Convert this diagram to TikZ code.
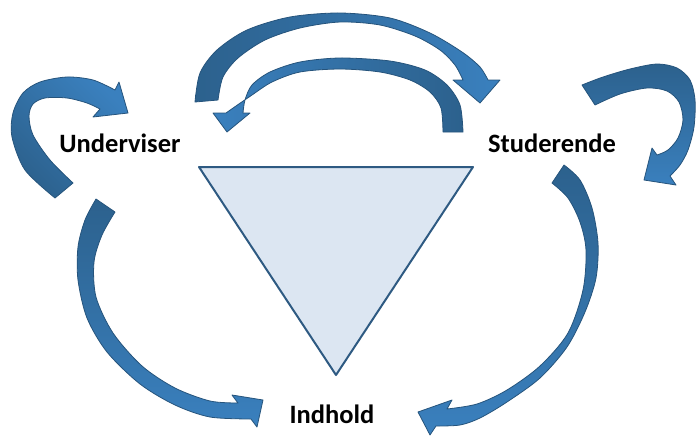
\documentclass[tikz,border=0pt]{standalone}
\usepackage{fontspec}
\setmainfont{Carlito}
\definecolor{arrdark}{RGB}{44,97,141}
\definecolor{arrlight}{RGB}{58,128,190}
\definecolor{arrline}{RGB}{38,84,124}
\definecolor{trifill}{RGB}{220,230,242}
\definecolor{triline}{RGB}{46,90,130}
\begin{document}
\begin{tikzpicture}[x=1pt,y=-1pt]
	\tikzstyle{role}=[font=\fontsize{26.5}{30}\selectfont\bfseries,anchor=base,inner sep=0pt]
	\tikzstyle{band}=[draw=arrline,line width=0.8pt,line join=round]
	\tikzstyle{tri}=[draw=triline,fill=trifill,line width=2pt,line join=round]

	\useasboundingbox (0,0) rectangle (696,437);

	\coordinate (tl) at (199,167);
	\coordinate (tr) at (473,167);
	\coordinate (bm) at (336,375);
	\path[tri] (tl) -- (tr) -- (bm) -- cycle;

	\node [role] (underviser) at (120,152) {Underviser};
	\node [role] (studerende) at (552,152) {Studerende};
	\node [role] (indhold) at (332,423) {Indhold};

	% Underviser -> Underviser
	\path[band,top color=arrlight,bottom color=arrdark,shading angle=-45]
		plot[smooth] coordinates {(55,198) (25,170) (12,137) (13,113) (23,93) (40,82) (67,77) (93,80) (115,90)}
		-- (119,82) -- (128,113) -- (93,117) --
		plot[smooth] coordinates {(100,109) (87,103) (67,98) (45,98) (33,104) (29,116) (33,135) (50,160) (73,183)}
		-- cycle;

	% Underviser -> Studerende
	\path[band,left color=arrdark,right color=arrlight]
		plot[smooth] coordinates {(195,102) (200,73) (217,50) (247,30) (290,17) (340,13) (390,18) (430,33) (462,52) (480,67) (488,80)}
		-- (500,80) -- (480,103) -- (453,80) --
		plot[smooth] coordinates {(463,80) (455,65) (440,50) (415,36) (380,25) (340,22) (300,28) (265,40) (238,58) (223,77) (218,100)}
		-- cycle;

	% Studerende -> Underviser
	\path[band,left color=arrlight,right color=arrdark]
		plot[smooth] coordinates {(463,132) (460,105) (447,85) (425,70) (390,61) (340,58) (300,62) (270,72) (252,85) (245,100) (243,113)}
		-- (250,113) -- (227,132) -- (213,113) --
		plot[smooth] coordinates {(226,113) (236,106) (252,95) (272,82) (300,72) (340,69) (380,72) (410,80) (430,92) (441,108) (443,132)}
		-- cycle;

	% Studerende -> Studerende
	\path[band,top color=arrdark,bottom color=arrlight]
		plot[smooth] coordinates {(582,85) (603,77) (630,69) (657,64) (677,68) (690,80) (695,100) (694,127) (688,150) (680,165) (670,176)}
		-- (676,185) -- (644,180) -- (652,148) --
		plot[smooth] coordinates {(657,155) (668,150) (678,138) (683,120) (679,102) (667,91) (647,88) (620,94) (595,105)}
		-- cycle;

	% Underviser -> Indhold
	\path[band,top color=arrdark,bottom color=arrlight]
		plot[smooth] coordinates {(96,199) (85,220) (78,247) (78,280) (87,318) (107,352) (140,384) (175,405) (210,417) (251,419)}
		-- (257,427) -- (263,400) -- (232,395) --
		plot[smooth] coordinates {(238,403) (210,401) (175,388) (142,366) (113,333) (96,297) (94,262) (102,235) (115,212)}
		-- cycle;

	% Studerende -> Indhold
	\path[band,top color=arrdark,bottom color=arrlight]
		plot[smooth] coordinates {(564,165) (580,180) (592,208) (598,243) (596,278) (585,312) (567,347) (540,378) (507,402) (480,418) (460,425) (436,426)}
		-- (430,435) -- (418,412) -- (452,400) --
		plot[smooth] coordinates {(447,409) (477,404) (507,390) (540,366) (568,333) (583,290) (586,250) (580,222) (568,198) (552,183)}
		-- cycle;
\end{tikzpicture}
\end{document}
